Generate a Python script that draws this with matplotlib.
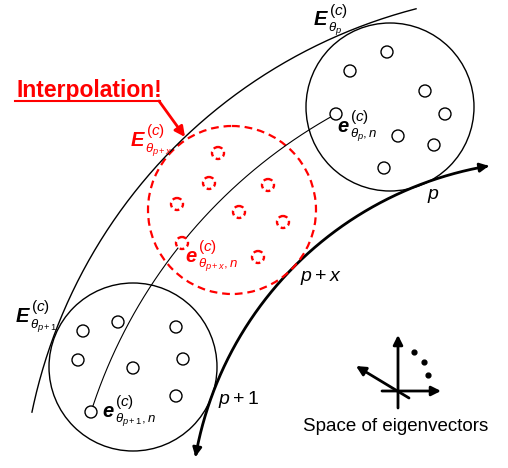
import numpy as np
import matplotlib.pyplot as plt
from matplotlib.patches import Circle, FancyArrowPatch
from matplotlib.path import Path

plt.rcParams['font.family'] = 'Liberation Sans'
plt.rcParams['mathtext.fontset'] = 'custom'
plt.rcParams['mathtext.rm'] = 'Liberation Sans'
plt.rcParams['mathtext.it'] = 'Liberation Sans:italic'
plt.rcParams['mathtext.bf'] = 'Liberation Sans:bold'

RED = '#ff0000'

# everything in pixel coords of the picture, y pointing down
arc_center = (548, 519)
outer_r, outer_ang = 527, (-104.5, -168.3)
track_r, track_ang = 358, (-99.5, -170.0)

cluster_centers = [(390, 107), (232, 210), (133, 367)]
cluster_r = 84

pts_p = [(387, 52), (350, 71), (425, 91), (445, 114), (398, 136), (434, 145), (384, 168)]
pts_px = [(218, 153), (209, 183), (268, 185), (177, 204), (239, 212), (283, 222), (258, 257)]
pts_p1 = [(118, 322), (83, 331), (176, 327), (78, 360), (183, 359), (133, 368), (176, 396)]
path_ends = [(336, 114), (182, 243), (91, 412)]   # e_{theta_p,n}, e_{theta_p+x,n}, e_{theta_p+1,n}
dot_r = 6

icon_dots = [(414, 352), (424, 362), (428, 375)]


def arc(cx, cy, r, a0, a1, n=200):
    t = np.radians(np.linspace(a0, a1, n))
    return cx + r * np.cos(t), cy + r * np.sin(t)


def circle_3pts(a, b, c):
    (x1, y1), (x2, y2), (x3, y3) = a, b, c
    d = 2 * (x1 * (y2 - y3) + x2 * (y3 - y1) + x3 * (y1 - y2))
    ux = ((x1**2 + y1**2) * (y2 - y3) + (x2**2 + y2**2) * (y3 - y1) + (x3**2 + y3**2) * (y1 - y2)) / d
    uy = ((x1**2 + y1**2) * (x3 - x2) + (x2**2 + y2**2) * (x1 - x3) + (x3**2 + y3**2) * (x2 - x1)) / d
    return ux, uy, np.hypot(x1 - ux, y1 - uy)


def label(ax, x, y, base, sub, color='k'):
    # big bold-italic letter with a large (c) on top and theta subscript
    if base == 'E':
        sup_dx, sup_dy, sub_dx, sub_dy = 15, -10.5, 14, 6
    else:
        sup_dx, sup_dy, sub_dx, sub_dy = 13, -11, 13, 4.5
    ax.text(x, y, base, fontsize=14.5, fontweight='bold', fontstyle='italic',
            color=color, va='baseline')
    ax.text(x + sup_dx, y + sup_dy, r'$(c)$', fontsize=11, color=color, va='baseline')
    ax.text(x + sub_dx, y + sub_dy, sub, fontsize=9.5, color=color, va='baseline')


fig = plt.figure(figsize=(5.08, 4.68), dpi=100)
ax = fig.add_axes([0, 0, 1, 1])
ax.set_xlim(0, 508)
ax.set_ylim(468, 0)
ax.axis('off')

# outer thin arc
x, y = arc(*arc_center, outer_r, *outer_ang)
ax.plot(x, y, color='k', lw=1.0)

# thick track with arrows at both ends
x, y = arc(*arc_center, track_r, *track_ang)
track = Path(np.column_stack([x, y]))
ax.add_patch(FancyArrowPatch(path=track, arrowstyle='<|-|>', mutation_scale=13,
                             color='k', lw=2.0))

# thin curve linking the n-th eigenvectors
cx, cy, r = circle_3pts(*path_ends)
a0 = np.degrees(np.arctan2(path_ends[0][1] - cy, path_ends[0][0] - cx))
a1 = np.degrees(np.arctan2(path_ends[2][1] - cy, path_ends[2][0] - cx))
x, y = arc(cx, cy, r, a0, a1)
ax.plot(x, y, color='k', lw=0.8)

# cluster circles
ax.add_patch(Circle(cluster_centers[0], cluster_r, fill=False, ec='k', lw=1.0))
ax.add_patch(Circle(cluster_centers[1], cluster_r, fill=False, ec=RED, lw=1.6,
                    ls=(0, (3.5, 2.2))))
ax.add_patch(Circle(cluster_centers[2], cluster_r, fill=False, ec='k', lw=1.0))

for p in pts_p + pts_p1 + [path_ends[0], path_ends[2]]:
    ax.add_patch(Circle(p, dot_r, fc='white', ec='k', lw=1.0, zorder=3))
for p in pts_px + [path_ends[1]]:
    ax.add_patch(Circle(p, dot_r, fc='white', ec=RED, lw=1.7, ls=(0, (2.0, 1.5)), zorder=3))

# labels
label(ax, 314, 25, 'E', r'$\theta_p$')
label(ax, 131, 146, 'E', r'$\theta_{p+x}$', color=RED)
label(ax, 16, 322, 'E', r'$\theta_{p+1}$')
label(ax, 337, 132, 'e', r'$\theta_p,n$')
label(ax, 185, 262, 'e', r'$\theta_{p+x},n$', color=RED)
label(ax, 102, 417, 'e', r'$\theta_{p+1},n$')

ax.text(427, 199, r'$p$', fontsize=14, va='baseline')
ax.text(300, 281, r'$p+x$', fontsize=14, va='baseline')
ax.text(218, 404, r'$p+1$', fontsize=14, va='baseline')

ax.text(17, 97, 'Interpolation!', fontsize=16.5, fontweight='bold', color=RED, va='baseline')
ax.plot([15, 160], [101, 101], color=RED, lw=1.5)
ax.annotate('', xy=(185, 137), xytext=(159, 101),
            arrowprops=dict(arrowstyle='-|>', color=RED, lw=2.0, mutation_scale=15,
                            shrinkA=0, shrinkB=0))

# eigenvector space icon
arrow_kw = dict(arrowstyle='-|>', color='k', lw=2.0, mutation_scale=14, shrinkA=0, shrinkB=0)
ax.annotate('', xy=(398, 335), xytext=(398, 408), arrowprops=arrow_kw)
ax.annotate('', xy=(441, 391), xytext=(382, 391), arrowprops=arrow_kw)
ax.annotate('', xy=(356, 366), xytext=(409, 398), arrowprops=arrow_kw)
ax.scatter([d[0] for d in icon_dots], [d[1] for d in icon_dots], s=12, color='k')
ax.text(303, 431, 'Space of eigenvectors', fontsize=13.5, va='baseline')

fig.savefig('out.png', dpi=100)
